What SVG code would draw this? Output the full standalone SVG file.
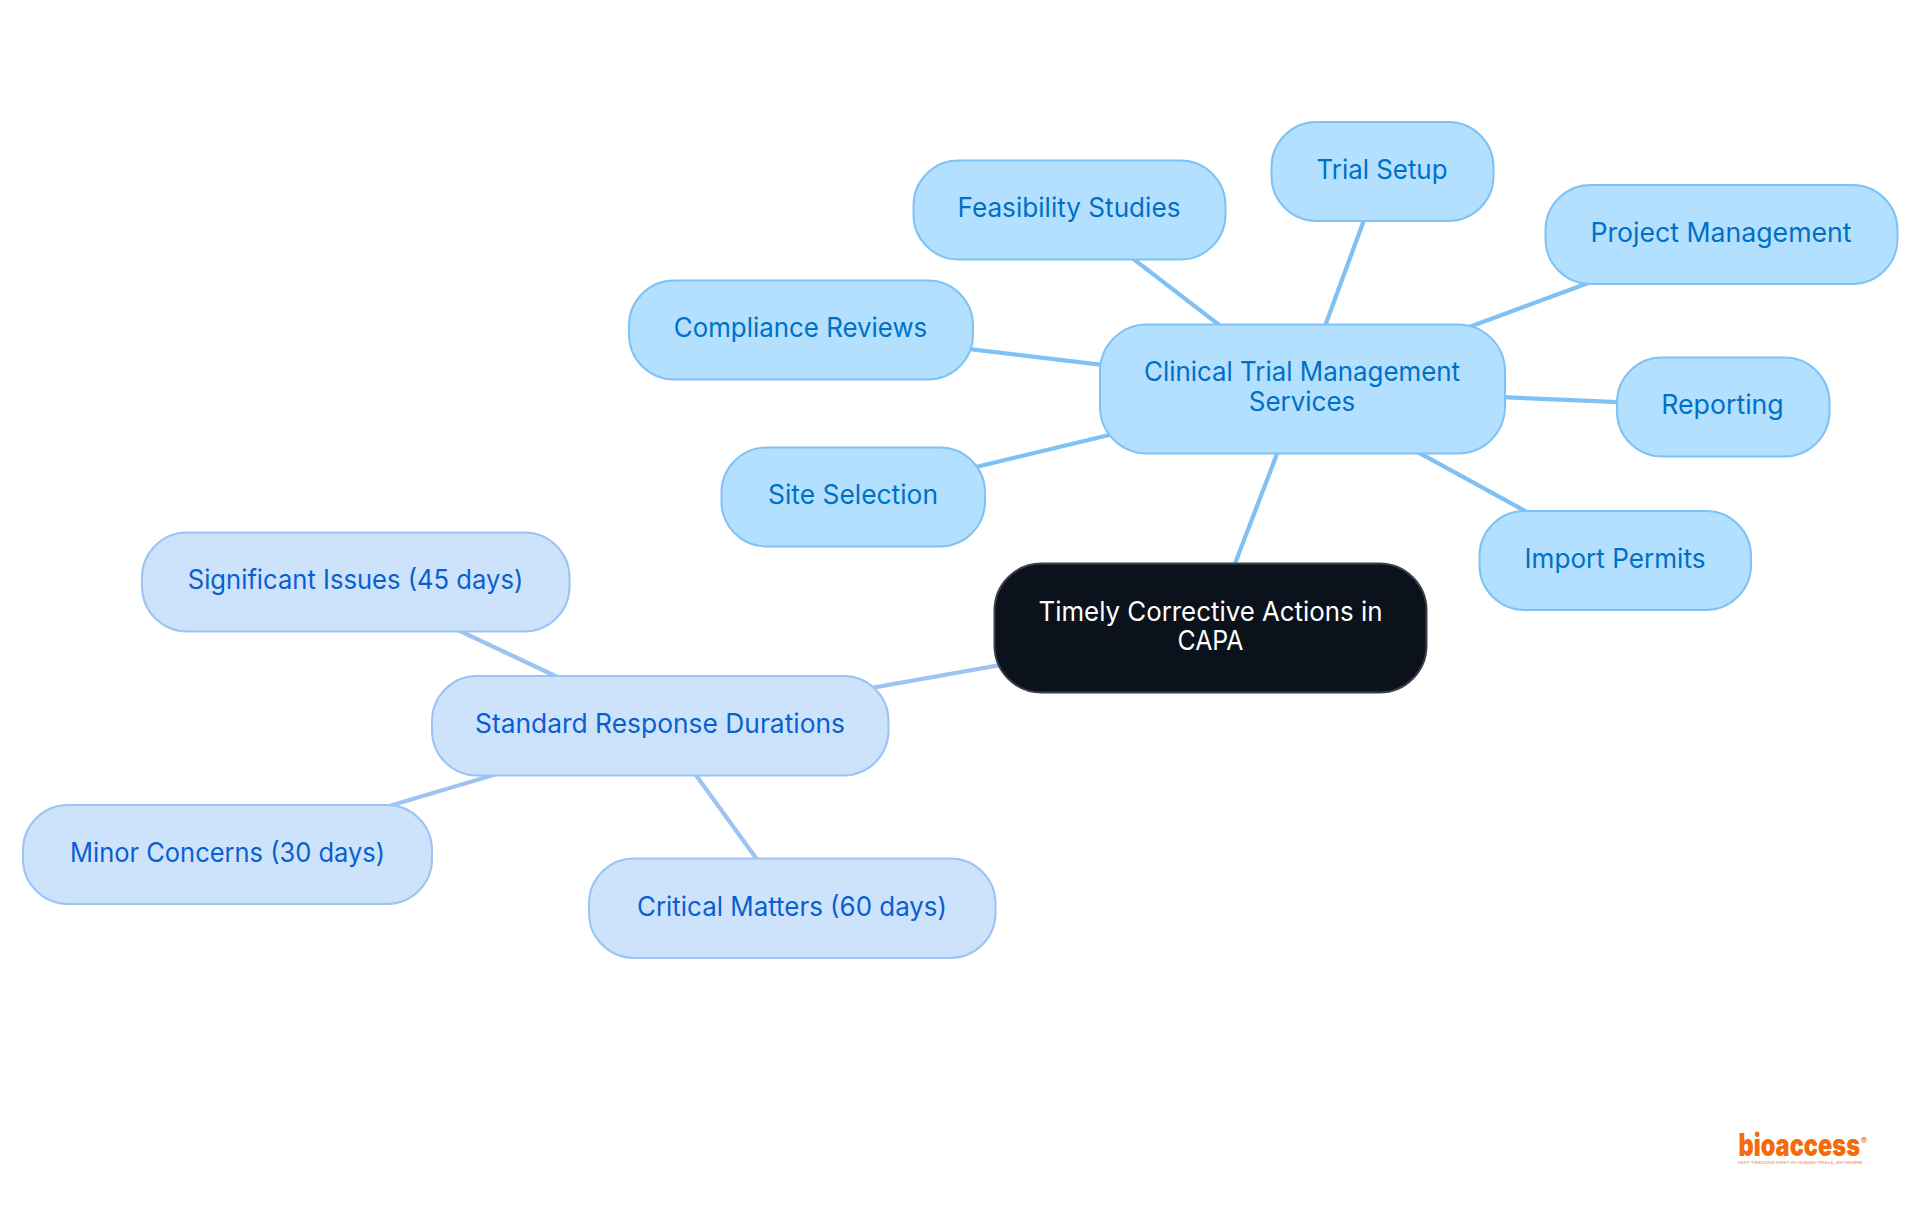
<svg xmlns="http://www.w3.org/2000/svg" width="1920" height="1215" viewBox="0 0 1920 1215">
<style>
text{font-family:"Inter","Noto Sans","Liberation Sans",sans-serif;font-size:26.5px;text-anchor:middle;}
.a rect{fill:#b3e0ff;stroke:#80c2f3;stroke-width:2}
.a text{fill:#0070c6}
.b rect{fill:#cde3fc;stroke:#9cc4f2;stroke-width:2}
.b text{fill:#0a5fcf}
.r rect{fill:#0b121b;stroke:#3b4047;stroke-width:2}
.r text{fill:#fff}
.la{stroke:#7fc1f3;stroke-width:4.2;fill:none}
.lb{stroke:#9cc4f2;stroke-width:4.2;fill:none}
</style>
<rect width="1920" height="1215" fill="#fff"/>
<g id="connectors">
<line class="la" x1="1210.5" y1="627.5" x2="1302" y2="388.7"/>
<line class="lb" x1="1210.5" y1="627.5" x2="660" y2="725.5"/>
<line class="la" x1="1302" y1="388.7" x2="1069" y2="209.4"/>
<line class="la" x1="1302" y1="388.7" x2="1382" y2="171"/>
<line class="la" x1="1302" y1="388.7" x2="1721" y2="234"/>
<line class="la" x1="1302" y1="388.7" x2="800.5" y2="329"/>
<line class="la" x1="1302" y1="388.7" x2="1722.5" y2="406.5"/>
<line class="la" x1="1302" y1="388.7" x2="853" y2="496.5"/>
<line class="la" x1="1302" y1="388.7" x2="1615" y2="560.3"/>
<line class="lb" x1="660" y1="725.5" x2="355.5" y2="581.6"/>
<line class="lb" x1="660" y1="725.5" x2="227.5" y2="854"/>
<line class="lb" x1="660" y1="725.5" x2="792" y2="907.8"/>
</g>
<g id="root" class="r"><rect x="994.5" y="563.5" width="432" height="129" rx="47"/>
<text x="1210.5" y="620.5" textLength="344" lengthAdjust="spacingAndGlyphs">Timely Corrective Actions in</text>
<text x="1210.5" y="650" textLength="66" lengthAdjust="spacingAndGlyphs">CAPA</text></g>
<g id="ctms" class="a"><rect x="1100" y="324.5" width="405" height="129" rx="47"/>
<text x="1302" y="381" textLength="316" lengthAdjust="spacingAndGlyphs">Clinical Trial Management</text>
<text x="1302" y="410.5" textLength="106.5" lengthAdjust="spacingAndGlyphs">Services</text></g>
<g id="feasibility" class="a"><rect x="913.5" y="160.5" width="312" height="99" rx="45"/>
<text x="1069" y="217" textLength="223" lengthAdjust="spacingAndGlyphs">Feasibility Studies</text></g>
<g id="trial-setup" class="a"><rect x="1271.5" y="122" width="222" height="99" rx="45"/>
<text x="1382" y="179" textLength="131" lengthAdjust="spacingAndGlyphs">Trial Setup</text></g>
<g id="project" class="a"><rect x="1545.5" y="185" width="352" height="99" rx="45"/>
<text x="1721" y="241.5" textLength="261" lengthAdjust="spacingAndGlyphs">Project Management</text></g>
<g id="compliance" class="a"><rect x="629" y="280.5" width="344" height="99" rx="45"/>
<text x="800.5" y="337" textLength="253.5" lengthAdjust="spacingAndGlyphs">Compliance Reviews</text></g>
<g id="reporting" class="a"><rect x="1617" y="357.5" width="212.5" height="99" rx="45"/>
<text x="1722.5" y="414" textLength="122.5" lengthAdjust="spacingAndGlyphs">Reporting</text></g>
<g id="site" class="a"><rect x="721.5" y="447.5" width="263.5" height="99" rx="45"/>
<text x="853" y="504" textLength="170" lengthAdjust="spacingAndGlyphs">Site Selection</text></g>
<g id="import" class="a"><rect x="1479.5" y="511" width="271.5" height="99" rx="45"/>
<text x="1615" y="567.5" textLength="181" lengthAdjust="spacingAndGlyphs">Import Permits</text></g>
<g id="standard" class="b"><rect x="432" y="676" width="456.5" height="99.5" rx="45"/>
<text x="660" y="732.5" textLength="370" lengthAdjust="spacingAndGlyphs">Standard Response Durations</text></g>
<g id="significant" class="b"><rect x="142" y="532.5" width="427.5" height="99" rx="45"/>
<text x="355.5" y="589" textLength="335.5" lengthAdjust="spacingAndGlyphs">Significant Issues (45 days)</text></g>
<g id="minor" class="b"><rect x="23" y="805" width="409" height="99" rx="45"/>
<text x="227.5" y="861.5" textLength="315" lengthAdjust="spacingAndGlyphs">Minor Concerns (30 days)</text></g>
<g id="critical" class="b"><rect x="589" y="858.5" width="406.5" height="99.5" rx="45"/>
<text x="792" y="915.5" textLength="310" lengthAdjust="spacingAndGlyphs">Critical Matters (60 days)</text></g>
<g id="logo">
<text x="1738.5" y="1155.5" textLength="121.5" lengthAdjust="spacingAndGlyphs" style="text-anchor:start;font-size:31px;font-weight:900;fill:#f56a0a">bioaccess</text>
<text x="1861" y="1143.5" style="text-anchor:start;font-size:9px;font-weight:700;fill:#f56a0a">®</text>
<text x="1738" y="1163.5" textLength="124.5" lengthAdjust="spacingAndGlyphs" style="text-anchor:start;font-size:4px;font-weight:600;fill:#f9a56c">FAST-TRACKING FIRST-IN-HUMAN TRIALS, ANYWHERE</text>
</g>
</svg>
